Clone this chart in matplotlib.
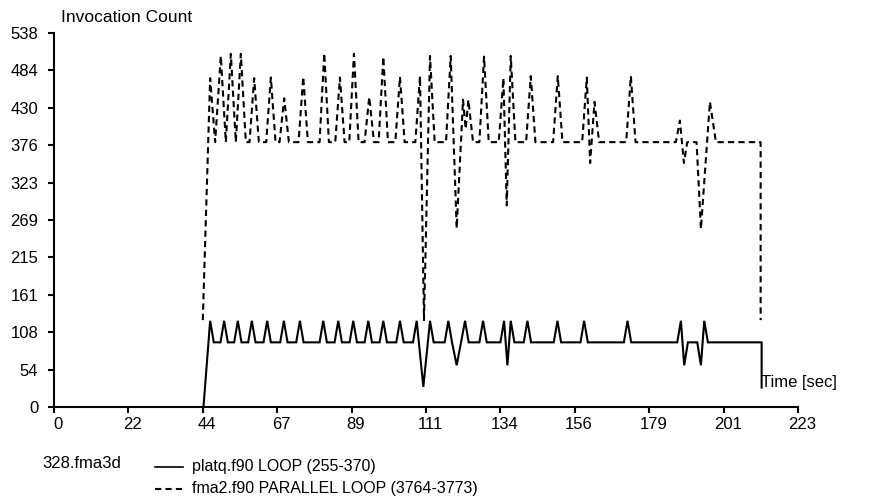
import matplotlib
matplotlib.use("Agg")
import matplotlib.pyplot as plt
from matplotlib.transforms import ScaledTranslation
import numpy as np

plt.rcParams['font.family'] = ['Liberation Sans', 'DejaVu Sans']

# platq.f90 LOOP (255-370): (time, count) vertices
platq = [(44.8, 0), (46.8, 124), (47.9, 93), (49.9, 93), (51.0, 124), (52.1, 93),
         (54.0, 93), (55.1, 124), (56.2, 93), (58.2, 93), (59.3, 124), (60.4, 93),
         (62.8, 93), (63.9, 124), (65.0, 93), (67.8, 93), (68.9, 124), (70.0, 93),
         (72.6, 93), (73.7, 124), (74.8, 93), (79.6, 93), (80.7, 124), (81.8, 93),
         (84.1, 93), (85.2, 124), (86.3, 93), (88.6, 93), (89.7, 124), (90.8, 93),
         (93.1, 93), (94.2, 124), (95.3, 93), (97.6, 93), (98.7, 124), (99.8, 93),
         (102.6, 93), (103.7, 124), (104.8, 93), (107.6, 93), (108.7, 124), (110.7, 29),
         (112.7, 124), (113.8, 93), (117.1, 93), (118.2, 124), (119.3, 93), (120.7, 60),
         (122.0, 93), (123.2, 124), (124.3, 93), (127.5, 93), (128.6, 124), (129.7, 93),
         (133.8, 93), (134.9, 124), (135.9, 60), (136.9, 124), (138.0, 93), (140.8, 93),
         (141.9, 124), (143.0, 93), (149.8, 93), (150.9, 124), (152.0, 93), (157.8, 93),
         (158.9, 124), (160.0, 93), (170.8, 93), (171.9, 124), (173.0, 93), (186.8, 93),
         (187.9, 124), (188.9, 60), (190.0, 93), (192.8, 93), (193.9, 60), (194.9, 124),
         (196.0, 93), (212.1, 93), (212.1, 28)]

# fma2.f90 PARALLEL LOOP (3764-3773)
fma2 = [(44.6, 125), (46.8, 473), (48.3, 381), (50.0, 505), (51.5, 381), (53.0, 508),
        (54.5, 381), (56.0, 508), (57.5, 381), (58.6, 381), (60.0, 473), (61.4, 381),
        (63.6, 381), (65.0, 474), (66.4, 381), (67.6, 381), (69.0, 444), (70.4, 381),
        (73.3, 381), (74.7, 475), (76.1, 381), (79.6, 381), (81.0, 509), (82.4, 381),
        (84.3, 381), (85.7, 474), (87.1, 381), (88.5, 381), (89.9, 508), (91.3, 381),
        (93.1, 381), (94.5, 446), (95.9, 381), (97.3, 381), (98.7, 504), (100.1, 381),
        (102.3, 381), (103.7, 475), (105.1, 381), (108.3, 381), (109.7, 476), (110.9, 125),
        (112.7, 505), (114.1, 381), (117.5, 381), (118.9, 505), (120.7, 257), (122.6, 442),
        (123.4, 400), (124.2, 442), (125.6, 381), (127.5, 381), (128.9, 504), (130.3, 381),
        (133.3, 381), (134.7, 473), (135.7, 290), (136.9, 505), (138.3, 381), (141.5, 381),
        (142.9, 476), (144.3, 381), (149.6, 381), (151.0, 476), (152.4, 381), (158.3, 381),
        (159.7, 474), (160.7, 351), (162.0, 439), (163.4, 381), (171.5, 381), (172.9, 476),
        (174.3, 381), (186.4, 381), (187.6, 412), (188.8, 351), (189.8, 381), (192.6, 381),
        (193.9, 256), (196.6, 439), (198.4, 381), (211.8, 381), (211.8, 125)]

x_labels = ['0', '22', '44', '67', '89', '111', '134', '156', '179', '201', '223']
y_labels = ['0', '54', '108', '161', '215', '269', '323', '376', '430', '484', '538']
x_max = 223
y_max = 538

W, H = 871, 504
fig = plt.figure(figsize=(W / 100, H / 100), dpi=100)
ax = fig.add_axes([54 / W, (H - 407) / H, 744 / W, 374 / H])

t1, v1 = zip(*platq)
t2, v2 = zip(*fma2)
ax.plot(t1, v1, color='black', lw=1.5, solid_joinstyle='miter', clip_on=False)
ax.plot(t2, v2, color='black', lw=1.5, linestyle=(0, (3, 2)), clip_on=False)

ax.set_xlim(0, x_max)
ax.set_ylim(0, y_max)
ax.set_xticks(np.linspace(0, x_max, len(x_labels)))
ax.set_xticklabels(x_labels)
ax.set_yticks(np.linspace(0, y_max, len(y_labels)))
ax.set_yticklabels(y_labels)

for s in ['top', 'right']:
    ax.spines[s].set_visible(False)
for s in ['left', 'bottom']:
    ax.spines[s].set_linewidth(1.5)
ax.tick_params(direction='out', length=4.3, width=1.5, labelsize=12)
ax.tick_params(axis='y', pad=7)
ax.tick_params(axis='x', pad=3)

# labels in the original sit a little right of their ticks
shift = ScaledTranslation(4 / 100, 0, fig.dpi_scale_trans)
for lab in ax.get_xticklabels():
    lab.set_transform(lab.get_transform() + shift)

def px_text(x, y, s, size=12):
    fig.text(x / W, 1 - y / H, s, fontsize=size, va='center')

px_text(61, 18, 'Invocation Count', 12.5)
px_text(761, 382, 'Time [sec]')
px_text(42, 464, '328.fma3d')
px_text(192, 466, 'platq.f90 LOOP (255-370)', 11.5)
px_text(192, 489, 'fma2.f90 PARALLEL LOOP (3764-3773)', 11.5)

# legend samples
fig.add_artist(plt.Line2D([155 / W, 183 / W], [1 - 467 / H, 1 - 467 / H],
                          color='black', lw=1.2))
fig.add_artist(plt.Line2D([155 / W, 183 / W], [1 - 489 / H, 1 - 489 / H],
                          color='black', lw=1.5, linestyle=(0, (3, 2))))

fig.savefig('out.png', dpi=100)
